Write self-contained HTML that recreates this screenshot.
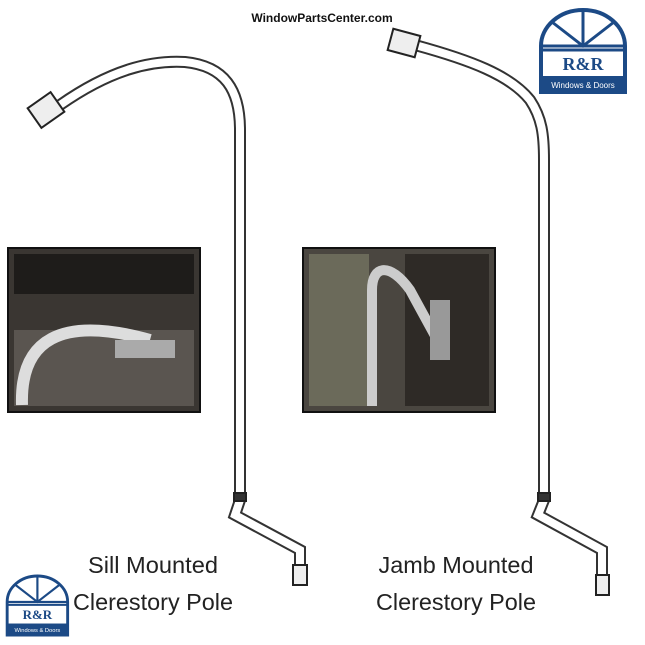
<!DOCTYPE html>
<html><head><style>body{margin:0;background:#fff}svg{display:block}</style></head><body>
<svg width="645" height="645" viewBox="0 0 645 645" xmlns="http://www.w3.org/2000/svg">
<rect width="645" height="645" fill="#fff"/>
<text x="322" y="22" text-anchor="middle" font-family="Liberation Sans, sans-serif" font-weight="bold" font-size="12" fill="#111">WindowPartsCenter.com</text>
<g fill="none" stroke-linecap="butt">
<path d="M60 105 C110 70 150 60 185 62 C225 66 240 90 240 130 L240 500 L235 515 L300 550 L300 565" stroke="#333" stroke-width="12"/>
<path d="M60 105 C110 70 150 60 185 62 C225 66 240 90 240 130 L240 500 L235 515 L300 550 L300 565" stroke="#fff" stroke-width="8"/>
<path d="M415 45 C470 60 510 75 530 100 C542 118 544 135 544 160 L544 500 L538 515 L602 550 L602 575" stroke="#333" stroke-width="12"/>
<path d="M415 45 C470 60 510 75 530 100 C542 118 544 135 544 160 L544 500 L538 515 L602 550 L602 575" stroke="#fff" stroke-width="8"/>
</g>
<g stroke="#222" stroke-width="2" fill="#eee">
<rect x="32" y="98" width="28" height="24" transform="rotate(-35 46 110)"/>
<rect x="390" y="32" width="28" height="22" transform="rotate(15 404 43)"/>
<rect x="293" y="565" width="14" height="20"/>
<rect x="596" y="575" width="13" height="20"/>
<rect x="234" y="493" width="12" height="8" fill="#333"/>
<rect x="538" y="493" width="12" height="8" fill="#333"/>
</g>
<rect x="8" y="248" width="192" height="164" fill="#3a3632" stroke="#111" stroke-width="2"/>
<rect x="14" y="254" width="180" height="40" fill="#1e1c1a"/>
<rect x="14" y="330" width="180" height="76" fill="#5a5550"/>
<path d="M22 405 C20 340 60 315 150 340" stroke="#ddd" stroke-width="12" fill="none"/>
<rect x="115" y="340" width="60" height="18" fill="#aaa"/>
<rect x="303" y="248" width="192" height="164" fill="#4a4640" stroke="#111" stroke-width="2"/>
<rect x="309" y="254" width="60" height="152" fill="#6b6a5a"/>
<rect x="405" y="254" width="84" height="152" fill="#2e2a26"/>
<path d="M372 406 L372 290 C372 265 390 262 410 290 L440 345" stroke="#ccc" stroke-width="10" fill="none"/>
<rect x="430" y="300" width="20" height="60" fill="#999"/>
<g font-family="Liberation Sans, sans-serif" font-size="23" fill="#222" text-anchor="middle">
<text x="153" y="573" textLength="130" lengthAdjust="spacingAndGlyphs">Sill Mounted</text>
<text x="153" y="610" textLength="160" lengthAdjust="spacingAndGlyphs">Clerestory Pole</text>
<text x="456" y="573" textLength="155" lengthAdjust="spacingAndGlyphs">Jamb Mounted</text>
<text x="456" y="610" textLength="160" lengthAdjust="spacingAndGlyphs">Clerestory Pole</text>
</g>
<g transform="translate(538 10)">
<path d="M3 36 A42 36 0 0 1 87 36 L87 82 L3 82 Z" fill="#fff" stroke="#1c4a86" stroke-width="4"/>
<path d="M45 0 V36 M14 12 L45 36 L76 12 M3 36 H87 M3 40 H87" stroke="#1c4a86" stroke-width="3" fill="none"/>
<text x="45" y="60" text-anchor="middle" font-family="Liberation Serif, serif" font-weight="bold" font-size="18" fill="#1c4a86">R&amp;R</text>
<rect x="3" y="66" width="84" height="16" fill="#1c4a86"/>
<text x="45" y="78" text-anchor="middle" font-family="Liberation Sans, sans-serif" font-size="8" fill="#fff">Windows &amp; Doors</text>
</g>
<g transform="translate(5 576) scale(0.72)">
<path d="M3 36 A42 36 0 0 1 87 36 L87 82 L3 82 Z" fill="#fff" stroke="#1c4a86" stroke-width="4"/>
<path d="M45 0 V36 M14 12 L45 36 L76 12 M3 36 H87 M3 40 H87" stroke="#1c4a86" stroke-width="3" fill="none"/>
<text x="45" y="60" text-anchor="middle" font-family="Liberation Serif, serif" font-weight="bold" font-size="18" fill="#1c4a86">R&amp;R</text>
<rect x="3" y="66" width="84" height="16" fill="#1c4a86"/>
<text x="45" y="78" text-anchor="middle" font-family="Liberation Sans, sans-serif" font-size="8" fill="#fff">Windows &amp; Doors</text>
</g>
</svg>
</body></html>
